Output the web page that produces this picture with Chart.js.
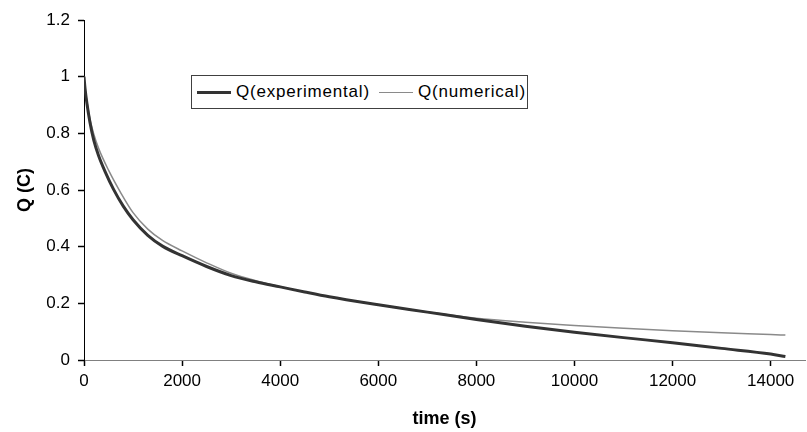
<!DOCTYPE html>
<html>
<head>
<meta charset="utf-8">
<script src="https://cdn.jsdelivr.net/npm/chart.js@4.4.1/dist/chart.umd.min.js"></script>
<style>
  html, body { margin: 0; padding: 0; background: #fff; }
  #wrap { position: relative; width: 807px; height: 432px; }
  #legend { position: absolute; left: 191px; top: 75px; width: 337px; height: 34px;
    border: 1px solid #404040; background: #fff; font-family: "Liberation Sans", Arial, sans-serif;
    font-size: 17px; color: #000; box-sizing: border-box; }
  .item { position: absolute; top: 0; height: 32px; display: flex; align-items: center; white-space: nowrap; letter-spacing: 0.8px; }
  .swatch { display: inline-block; width: 34px; margin-right: 5px; }
</style>
</head>
<body>
<div id="wrap">
  <canvas id="c" width="807" height="432"></canvas>
  <div id="legend"></div>
</div>
<script>
// ---- data ----
const seriesNames = ["Q(experimental)", "Q(numerical)"];
const timeExp = [0, 20, 60, 120, 200, 300, 430, 600, 800, 1000, 1300, 1600, 2000, 2500, 3000, 3500, 4000, 4500, 5000, 6000, 7000, 8000, 9000, 10000, 11000, 12000, 13000, 14000, 14300];
const qExp    = [1.0, 0.96, 0.905, 0.84, 0.775, 0.72, 0.665, 0.603, 0.543, 0.495, 0.44, 0.402, 0.368, 0.33, 0.298, 0.276, 0.258, 0.24, 0.223, 0.195, 0.169, 0.143, 0.119, 0.098, 0.079, 0.061, 0.041, 0.021, 0.012];
const timeNum = [0, 20, 60, 120, 200, 300, 500, 750, 1000, 1300, 1600, 2000, 2500, 3000, 3500, 4000, 5000, 6000, 7000, 8000, 9000, 10000, 11000, 12000, 13000, 14000, 14300];
const qNum    = [1.0, 0.96, 0.912, 0.852, 0.797, 0.746, 0.67, 0.59, 0.52, 0.462, 0.422, 0.385, 0.343, 0.306, 0.28, 0.259, 0.223, 0.195, 0.169, 0.147, 0.133, 0.122, 0.112, 0.103, 0.096, 0.09, 0.088];
const xTicks = [0, 2000, 4000, 6000, 8000, 10000, 12000, 14000];
const yTicks = [0, 0.2, 0.4, 0.6, 0.8, 1, 1.2];
const xTitle = "time (s)";
const yTitle = "Q (C)";

const colors = ["#333333", "#8a8a8a"];
const widths = [3, 1.5];

const toPts = (xs, ys) => xs.map((x, i) => ({ x: x, y: ys[i] }));

const FONT = '"Liberation Sans", Arial, sans-serif';

const chart = new Chart(document.getElementById('c'), {
  type: 'line',
  data: {
    datasets: [
      { label: seriesNames[0], data: toPts(timeExp, qExp), borderColor: colors[0], borderWidth: widths[0],
        pointRadius: 0, cubicInterpolationMode: 'monotone', fill: false },
      { label: seriesNames[1], data: toPts(timeNum, qNum), borderColor: colors[1], borderWidth: widths[1],
        pointRadius: 0, cubicInterpolationMode: 'monotone', fill: false }
    ]
  },
  options: {
    responsive: false,
    animation: false,
    layout: { padding: { top: 20, right: 2, left: 0, bottom: 0 } },
    plugins: { legend: { display: false }, tooltip: { enabled: false } },
    scales: {
      x: {
        type: 'linear', min: 0, max: 14700,
        grid: { display: true, drawOnChartArea: false, drawTicks: true, tickLength: 6, color: '#000', tickColor: '#000', tickWidth: 1.5, lineWidth: 1 },
        border: { display: true, color: '#808080', width: 1 },
        afterBuildTicks: s => { s.ticks = xTicks.map(v => ({ value: v })); },
        ticks: { autoSkip: false, color: '#000', font: { family: FONT, size: 17 }, padding: 5, maxRotation: 0, callback: v => String(v) },
        afterFit: s => { s.height = 72; },
        title: { display: true, text: xTitle, color: '#000', font: { family: FONT, size: 18, weight: 'bold' }, padding: { top: 0, bottom: 2 } }
      },
      y: {
        type: 'linear', min: 0, max: 1.2,
        grid: { display: true, drawOnChartArea: false, drawTicks: true, tickLength: 6, color: '#000', tickColor: '#000', tickWidth: 1.5, lineWidth: 1 },
        border: { display: true, color: '#000', width: 1 },
        afterBuildTicks: s => { s.ticks = yTicks.map(v => ({ value: v })); },
        ticks: { autoSkip: false, color: '#000', font: { family: FONT, size: 17 }, padding: 8, callback: v => String(v) },
        afterFit: s => { s.width = 84; },
        title: { display: true, text: yTitle, color: '#000', font: { family: FONT, size: 18, weight: 'bold' }, padding: { top: 14, bottom: 0 } }
      }
    }
  }
});

// HTML legend built from the dataset labels
const lg = document.getElementById('legend');
const itemLefts = [5, 187];
chart.data.datasets.forEach((ds, i) => {
  const it = document.createElement('div');
  it.className = 'item';
  it.style.left = itemLefts[i] + 'px';
  const sw = document.createElement('span');
  sw.className = 'swatch';
  sw.style.borderTop = ds.borderWidth + 'px solid ' + ds.borderColor;
  it.appendChild(sw);
  const tx = document.createElement('span');
  tx.textContent = ds.label;
  it.appendChild(tx);
  lg.appendChild(it);
});
</script>
</body>
</html>
